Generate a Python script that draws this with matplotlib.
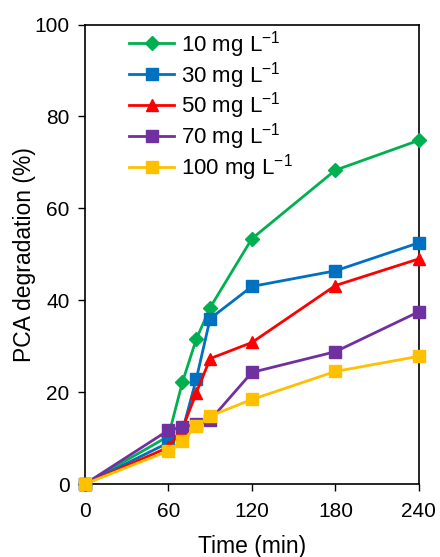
import matplotlib
matplotlib.use("Agg")
import matplotlib.pyplot as plt

plt.rcParams['font.family'] = ['Liberation Sans', 'DejaVu Sans']
plt.rcParams['mathtext.fontset'] = 'custom'
plt.rcParams['mathtext.rm'] = 'Liberation Sans'
plt.rcParams['mathtext.it'] = 'Liberation Sans'
plt.rcParams['mathtext.default'] = 'regular'

time = [0, 60, 70, 80, 90, 120, 180, 240]
c10 = [0, 10.4, 22.1, 31.5, 38.4, 53.4, 68.3, 74.8]
c30 = [0, 9.0, 11.5, 22.8, 36.0, 43.0, 46.4, 52.5]
c50 = [0, 8.0, 12.0, 19.8, 27.3, 30.8, 43.2, 49.0]
c70 = [0, 11.7, 12.4, 13.0, 13.9, 24.3, 28.8, 37.5]
c100 = [0, 7.2, 9.3, 12.6, 14.8, 18.4, 24.5, 27.8]
labels = ['10 mg L$^{-1}$', '30 mg L$^{-1}$', '50 mg L$^{-1}$', '70 mg L$^{-1}$', '100 mg L$^{-1}$']
xticks = [0, 60, 120, 180, 240]
yticks = [0, 20, 40, 60, 80, 100]

fig = plt.figure(figsize=(4.4, 5.57), dpi=100)
ax = fig.add_axes([0.193, 0.131, 0.759, 0.825])

series = [c10, c30, c50, c70, c100]
colors = ['#00B050', '#0070C0', '#FF0000', '#7030A0', '#FFC000']
markers = ['D', 's', '^', 's', 's']
msizes = [7, 9, 9, 9, 9]
for s, c, m, ms, lab in zip(series, colors, markers, msizes, labels):
    ax.plot(time, s, color=c, marker=m, markersize=ms, lw=2, label=lab, clip_on=False, zorder=3)

ax.set_xlim(0, 240)
ax.set_ylim(0, 100)
ax.set_xticks(xticks)
ax.set_yticks(yticks)
ax.tick_params(direction='out', labelsize=15, length=5, width=1)
ax.tick_params(axis='x', pad=8)
ax.tick_params(axis='y', pad=6)
for sp in ax.spines.values():
    sp.set_linewidth(1.2)
ax.set_xlabel('Time (min)', fontsize=16.5, labelpad=10)
ax.set_ylabel('PCA degradation (%)', fontsize=16.5, labelpad=-1)
ax.legend(loc='upper left', bbox_to_anchor=(0.1, 1.015), frameon=False, fontsize=16,
          handlelength=2.0, handletextpad=0.3, labelspacing=0.0, borderaxespad=0.1)

fig.savefig('out.png', dpi=100)
